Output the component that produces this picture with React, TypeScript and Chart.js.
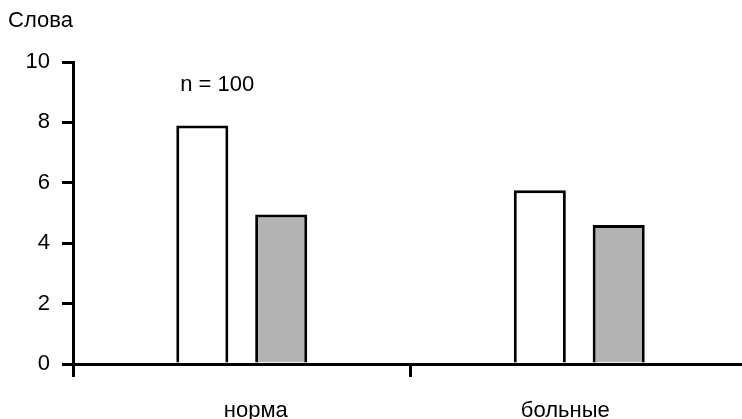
import { useEffect, useRef } from 'react';
import { Chart, registerables } from 'chart.js';

Chart.register(...registerables);

const categories = ['норма', 'больные'];
const whiteSeries = [7.9, 5.75];
const greySeries = [4.95, 4.6];
const yTitle = 'Слова';
const yMin = 0;
const yMax = 10;
const yStep = 2;
const annotationText = 'n = 100';
const annotationValue = 9.03;

const FONT = '"Liberation Sans", Arial, Helvetica, sans-serif';
const FONT_SIZE = 22;

export default function App() {
  const ref = useRef<HTMLCanvasElement | null>(null);

  useEffect(() => {
    if (!ref.current) return;
    Chart.defaults.font.family = FONT;

    const textPlugin = {
      id: 'customText',
      afterDraw(chart: any) {
        const { ctx, scales, chartArea } = chart;
        const x = scales.x;
        const y = scales.y;
        ctx.save();
        ctx.fillStyle = '#000';
        ctx.font = `${FONT_SIZE}px ${FONT}`;
        ctx.textBaseline = 'alphabetic';
        ctx.textAlign = 'center';
        const c0 = x.getPixelForValue(0);
        const c1 = x.getPixelForValue(1);
        const mid = (c0 + c1) / 2;
        categories.forEach((lab, i) => {
          const c = x.getPixelForValue(i);
          const shift = c < mid ? 14 : -14;
          ctx.fillText(lab, c + shift, chartArea.bottom + 53);
        });
        const bar = chart.getDatasetMeta(0).data[0] as any;
        ctx.textAlign = 'left';
        ctx.fillText(annotationText, bar.x - bar.width / 2 + 4, y.getPixelForValue(annotationValue));
        ctx.restore();
      },
    };

    const chart = new Chart(ref.current, {
      type: 'bar',
      data: {
        labels: categories,
        datasets: [
          {
            data: whiteSeries,
            backgroundColor: '#ffffff',
            borderColor: '#000000',
            borderWidth: 3,
            categoryPercentage: 0.4675,
            barPercentage: 0.66,
          },
          {
            data: greySeries,
            backgroundColor: '#b3b3b3',
            borderColor: '#000000',
            borderWidth: 3,
            categoryPercentage: 0.4675,
            barPercentage: 0.66,
          },
        ],
      },
      options: {
        responsive: false,
        animation: false,
        devicePixelRatio: 1,
        layout: { padding: { left: 8, top: 0, right: 0, bottom: 0 } },
        plugins: {
          legend: { display: false },
          tooltip: { enabled: false },
          title: {
            display: true,
            text: yTitle,
            align: 'start',
            color: '#000',
            font: { size: FONT_SIZE, weight: 'normal', family: FONT },
            padding: { top: 8, bottom: 27.6 },
          },
        },
        scales: {
          x: {
            type: 'category',
            offset: true,
            grid: {
              display: true,
              drawOnChartArea: false,
              drawTicks: true,
              tickLength: 13,
              color: '#000',
              lineWidth: 3,
              offset: true,
            },
            border: { display: true, color: '#000', width: 3 },
            ticks: { display: false },
            afterFit(s: any) {
              s.height = 55;
            },
          },
          y: {
            min: yMin,
            max: yMax,
            ticks: {
              stepSize: yStep,
              color: '#000',
              font: { size: FONT_SIZE, family: FONT },
              padding: 12,
            },
            grid: {
              drawOnChartArea: false,
              tickLength: 11,
              color: '#000',
              lineWidth: 3,
            },
            border: { display: true, color: '#000', width: 3 },
            afterFit(s: any) {
              s.width = 65;
            },
          },
        },
      },
      plugins: [textPlugin],
    });

    return () => chart.destroy();
  }, []);

  return (
    <div
      style={{
        position: 'absolute',
        left: 0,
        top: 0,
        width: 742,
        height: 419,
        overflow: 'hidden',
        background: '#fff',
      }}
    >
      <canvas ref={ref} width={748} height={419} style={{ display: 'block' }} />
    </div>
  );
}
